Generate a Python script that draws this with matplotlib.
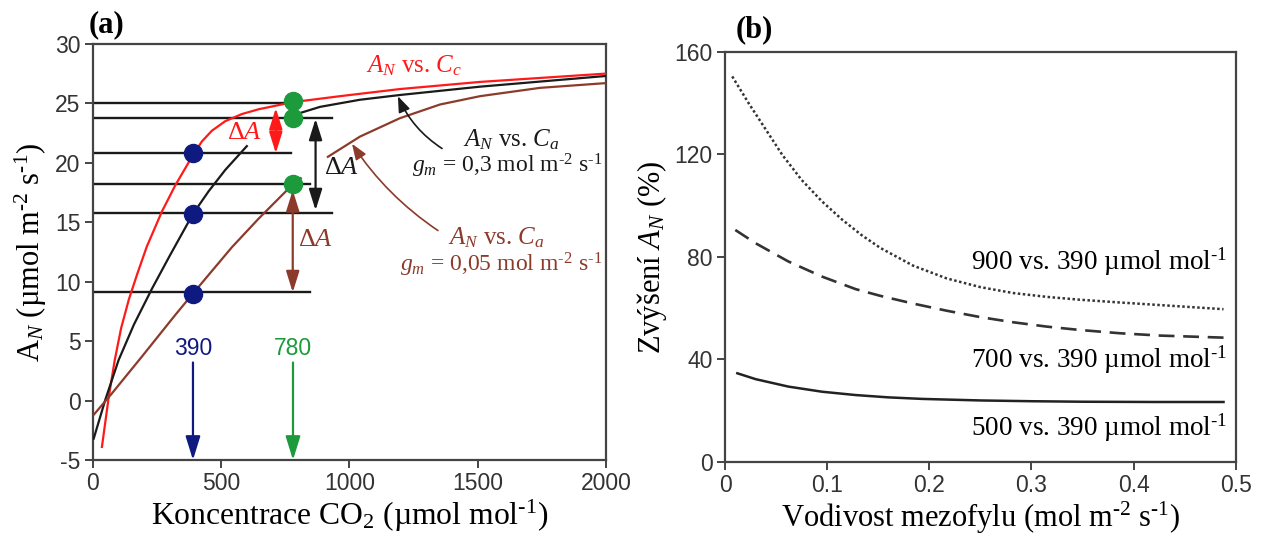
import numpy as np
import matplotlib.pyplot as plt

plt.rcParams['font.family'] = ['Liberation Serif', 'DejaVu Serif']
plt.rcParams['mathtext.fontset'] = 'custom'
plt.rcParams['mathtext.rm'] = 'Liberation Serif'
plt.rcParams['mathtext.it'] = 'Liberation Serif:italic'
plt.rcParams['mathtext.bf'] = 'Liberation Serif:bold'
plt.rcParams['axes.unicode_minus'] = False

# ---- panel (a) data: A_N vs CO2 ----
cc_x = [35, 61, 85, 110, 140, 172, 210, 269, 321, 386, 425, 464, 516, 581, 646, 724, 780, 963, 1197, 1509, 2000]
cc_y = [-3.9, 0.2, 3.4, 6.1, 8.5, 10.6, 12.95, 15.9, 18.1, 20.5, 21.8, 22.7, 23.5, 24.1, 24.5, 24.85, 25.1,
        25.6, 26.2, 26.8, 27.5]

# gm = 0.3 curve, drawn in two pieces (gap behind the red delta label)
ca03_x1 = [3, 48, 100, 160, 230, 300, 390, 451, 516, 600]
ca03_y1 = [-3.2, 0.05, 3.4, 6.4, 9.4, 12.2, 15.7, 17.6, 19.4, 21.4]
ca03_x2 = [780, 885, 1041, 1197, 1509, 2000]
ca03_y2 = [24.0, 24.7, 25.3, 25.7, 26.4, 27.3]

# gm = 0.05 curve, also in two pieces
ca005_x1 = [3, 74, 191, 321, 390, 464, 542, 646, 743, 780, 810]
ca005_y1 = [-1.2, 0.6, 3.7, 7.2, 9.0, 10.9, 12.9, 15.3, 17.4, 18.2, 18.7]
ca005_x2 = [916, 1041, 1197, 1353, 1509, 1743, 2000]
ca005_y2 = [20.5, 22.2, 23.75, 24.9, 25.6, 26.3, 26.7]

ref_levels = [25.0, 23.8, 20.8, 18.2, 15.8, 9.1]
ref_ends = [773, 932, 773, 846, 932, 846]

co2_now, co2_high = 390, 780
dots_now = [20.8, 15.7, 9.0]
dots_high = [25.2, 23.8, 18.2]

# ---- panel (b) data: increase of A_N vs mesophyll conductance ----
gm_900 = [0.007, 0.023, 0.040, 0.056, 0.075, 0.095, 0.115, 0.134, 0.152, 0.184, 0.217, 0.250,
          0.282, 0.315, 0.347, 0.387, 0.426, 0.488]
inc_900 = [150.4, 140.0, 129.6, 119.8, 110.0, 101.6, 94.4, 88.4, 83.5, 76.6, 71.6, 68.2,
           65.9, 64.4, 63.3, 62.2, 61.2, 59.6]
gm_700 = [0.010, 0.030, 0.062, 0.095, 0.128, 0.152, 0.184, 0.217, 0.250, 0.282, 0.315, 0.347,
          0.387, 0.426, 0.488]
inc_700 = [90.5, 85.3, 78.2, 72.3, 67.4, 64.8, 61.8, 59.0, 56.5, 54.5, 52.8, 51.5,
           50.2, 49.3, 48.5]
gm_500 = [0.012, 0.030, 0.062, 0.095, 0.128, 0.160, 0.193, 0.250, 0.300, 0.350, 0.420, 0.488]
inc_500 = [34.6, 32.3, 29.4, 27.4, 26.1, 25.2, 24.6, 24.0, 23.7, 23.5, 23.4, 23.4]

RED = '#ff1a1a'
BLACK = '#1a1a1a'
BROWN = '#8c3b2b'
NAVY = '#0f1a80'
GREEN = '#1c9a3c'
AXC = '#444444'
SUP2 = r'$^{\text{-2}}$'
SUP1 = r'$^{\text{-1}}$'

fig = plt.figure(figsize=(12.61, 5.39), dpi=100)
ax1 = fig.add_axes([0.0737, 0.1466, 0.4068, 0.772])
ax2 = fig.add_axes([0.575, 0.1429, 0.405, 0.761])


def style_axis(ax):
    for s in ax.spines.values():
        s.set_color(AXC)
        s.set_linewidth(1.6)
    ax.tick_params(direction='out', length=6, width=1.4, color=AXC,
                   labelsize=16.5, labelcolor='#333333', pad=3)
    for lab in ax.get_xticklabels() + ax.get_yticklabels():
        lab.set_fontfamily('Liberation Sans')


# ---------------- panel (a) ----------------
ax1.set_xlim(0, 2000)
ax1.set_ylim(-5, 30)
ax1.set_xticks([0, 500, 1000, 1500, 2000])
ax1.set_yticks(range(-5, 31, 5))

for lvl, xe in zip(ref_levels, ref_ends):
    ax1.plot([0, xe], [lvl, lvl], color=BLACK, lw=1.7, zorder=2)

ax1.plot(cc_x, cc_y, color=RED, lw=1.6, zorder=3)
ax1.plot(ca03_x1, ca03_y1, color=BLACK, lw=1.6, zorder=3)
ax1.plot(ca03_x2, ca03_y2, color=BLACK, lw=1.6, zorder=3)
ax1.plot(ca005_x1, ca005_y1, color=BROWN, lw=1.6, zorder=3)
ax1.plot(ca005_x2, ca005_y2, color=BROWN, lw=1.6, zorder=3)

ax1.plot([co2_now] * 3, dots_now, 'o', color=NAVY, ms=13, zorder=5)
ax1.plot([co2_high] * 3, dots_high, 'o', color=GREEN, ms=13, zorder=5)

# CO2 arrows
head = dict(lw=1.6, mutation_scale=16, shrinkA=0, shrinkB=0)
one = '-|>,head_width=0.28,head_length=0.9'
ax1.annotate('', xy=(co2_now, -5), xytext=(co2_now, 3.2),
             arrowprops=dict(arrowstyle=one, color=NAVY, **head))
ax1.annotate('', xy=(co2_high, -5), xytext=(co2_high, 3.2),
             arrowprops=dict(arrowstyle=one, color=GREEN, **head))
ax1.text(co2_now, 4.4, '390', color=NAVY, ha='center', va='center', fontsize=16.5,
         family='Liberation Sans')
ax1.text(co2_high, 4.4, '780', color=GREEN, ha='center', va='center', fontsize=16.5,
         family='Liberation Sans')

# delta A arrows
dbl = '<|-|>,head_width=0.25,head_length=0.8'
ax1.annotate('', xy=(713, 20.8), xytext=(713, 24.6),
             arrowprops=dict(arrowstyle=dbl, color=RED, **head))
ax1.annotate('', xy=(868, 16.0), xytext=(868, 23.7),
             arrowprops=dict(arrowstyle=dbl, color=BLACK, **head))
ax1.annotate('', xy=(779, 9.1), xytext=(779, 17.7),
             arrowprops=dict(arrowstyle=dbl, color=BROWN, **head))
ax1.text(593, 22.5, r'$\Delta A$', color=RED, ha='center', va='center', fontsize=19)
ax1.text(970, 19.6, r'$\Delta A$', color=BLACK, ha='center', va='center', fontsize=19)
ax1.text(869, 13.5, r'$\Delta A$', color=BROWN, ha='center', va='center', fontsize=19)

# curve labels
ax1.text(1251, 28.2, r'$A_N$ vs. $C_c$', color=RED, ha='center', va='center', fontsize=18)
ax1.text(1633, 21.9, r'$A_N$ vs. $C_a$', color=BLACK, ha='center', va='center', fontsize=18)
ax1.text(1985, 19.7, r'$g_m$ = 0,3 mol m' + SUP2 + ' s' + SUP1, color=BLACK,
         ha='right', va='center', fontsize=17)
ax1.text(1571, 13.7, r'$A_N$ vs. $C_a$', color=BROWN, ha='center', va='center', fontsize=18)
ax1.text(1985, 11.4, r'$g_m$ = 0,05 mol m' + SUP2 + ' s' + SUP1, color=BROWN,
         ha='right', va='center', fontsize=17)

thin = dict(lw=1.2, mutation_scale=12, shrinkA=0, shrinkB=0)
ax1.annotate('', xy=(1189, 25.6), xytext=(1361, 21.2),
             arrowprops=dict(arrowstyle='-|>,head_width=0.3,head_length=0.8', color=BLACK,
                             connectionstyle='arc3,rad=-0.15', **thin))
ax1.annotate('', xy=(1010, 21.6), xytext=(1345, 14.3),
             arrowprops=dict(arrowstyle='-|>,head_width=0.3,head_length=0.8', color=BROWN,
                             connectionstyle='arc3,rad=-0.1', **thin))

ax1.set_xlabel(r'Koncentrace CO$_2$ (µmol mol' + SUP1 + ')', fontsize=22.8, labelpad=2)
ax1.set_ylabel(r'A$_N$ (µmol m' + SUP2 + ' s' + SUP1 + ')', fontsize=22, labelpad=4)
style_axis(ax1)
fig.text(0.070, 0.955, '(a)', fontsize=22, fontweight='bold', ha='left', va='center')

# ---------------- panel (b) ----------------
ax2.set_xlim(0, 0.5)
ax2.set_ylim(0, 160)
ax2.set_xticks([0, 0.1, 0.2, 0.3, 0.4, 0.5])
ax2.set_xticklabels(['0', '0.1', '0.2', '0.3', '0.4', '0.5'])
ax2.set_yticks([0, 40, 80, 120, 160])

ax2.plot(gm_900, inc_900, color='#333333', lw=1.8, linestyle=(0, (1, 1)))
ax2.plot(gm_700, inc_700, color='#333333', lw=1.9, linestyle=(0, (6, 3.3)))
ax2.plot(gm_500, inc_500, color='#222222', lw=1.8)

for yv, lab in [(78, '900'), (39.8, '700'), (13.3, '500')]:
    ax2.text(0.492, yv, lab + ' vs. 390 µmol mol' + SUP1, ha='right', va='center', fontsize=19.5)

ax2.set_xlabel(r'Vodivost mezofylu (mol m' + SUP2 + ' s' + SUP1 + ')', fontsize=22, labelpad=2)
ax2.set_ylabel(r'Zvýšení $A_N$ (%)', fontsize=22, labelpad=4)
style_axis(ax2)
fig.text(0.583, 0.945, '(b)', fontsize=22, fontweight='bold', ha='left', va='center')

fig.savefig('out.png', dpi=100)
